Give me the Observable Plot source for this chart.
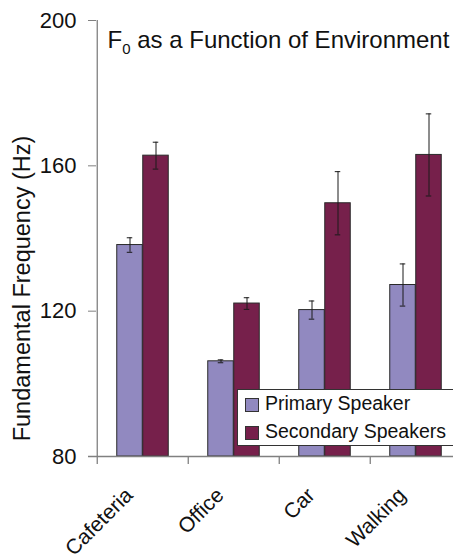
<!DOCTYPE html>
<html><head><meta charset="utf-8">
<script src="https://cdn.jsdelivr.net/npm/d3@7"></script>
<script src="https://cdn.jsdelivr.net/npm/@observablehq/plot@0.6"></script>
<style>
body{margin:0;background:#fff;font-family:"Liberation Sans",Arial,sans-serif;}
#wrap{position:relative;width:453px;height:560px;overflow:hidden;}
.legend{position:absolute;left:237px;top:389px;width:270px;height:57px;border:1px solid #333;background:#fff;box-sizing:border-box;font-size:19.5px;color:#111;}
.row{position:absolute;left:7px;height:14px;}
.sw{position:absolute;left:0;top:0;width:12px;height:12px;border:1px solid #333;}
.lab{position:absolute;left:20px;top:-5px;white-space:nowrap;line-height:20px;}
</style></head>
<body><div id="wrap"></div>
<script>
const categories = ["Cafeteria", "Office", "Car", "Walking"];
const series = ["Primary Speaker", "Secondary Speakers"];
const primary = [138.2, 106.2, 120.3, 127.2];
const primaryErr = [2.0, 0.4, 2.5, 5.8];
const secondary = [162.8, 122.1, 149.7, 163.0];
const secondaryErr = [3.7, 1.6, 8.7, 11.3];
const yTicks = [80, 120, 160, 200];
const colors = ["#9189c0", "#76204b"];
const title = "F0 as a Function of Environment";
const yLabel = "Fundamental Frequency (Hz)";

const rows = [];
categories.forEach((c, i) => {
  rows.push({cat: c, s: 0, v: primary[i], e: primaryErr[i]});
  rows.push({cat: c, s: 1, v: secondary[i], e: secondaryErr[i]});
});
const bw = (462 - 96) / categories.length; // band width in px
const barW = 26;
const half = bw / 2;
const grey = "#808080";

const marks = [];
[0, 1].forEach(s => {
  const d = rows.filter(r => r.s === s);
  const left = s === 0 ? half - barW : half;
  marks.push(Plot.barY(d, {x: "cat", y1: () => 80, y2: "v", fill: colors[s], stroke: "#2a2a2a", strokeWidth: 1,
    insetLeft: left, insetRight: bw - left - barW}));
  const off = s === 0 ? -barW / 2 : barW / 2;
  marks.push(Plot.ruleX(d, {x: "cat", y1: r => r.v - r.e, y2: r => r.v + r.e, dx: off, stroke: "#1a1a1a", strokeWidth: 1}));
  const capL = half + off - 3;
  marks.push(Plot.tickY(d, {x: "cat", y: r => r.v + r.e, insetLeft: capL, insetRight: bw - capL - 6, stroke: "#1a1a1a", strokeWidth: 1}));
  marks.push(Plot.tickY(d, {x: "cat", y: r => r.v - r.e, insetLeft: capL, insetRight: bw - capL - 6, stroke: "#1a1a1a", strokeWidth: 1}));
});
marks.push(Plot.ruleX([categories[0]], {x: d => d, dx: -half, stroke: grey, strokeWidth: 1.3}));
marks.push(Plot.ruleY([80], {stroke: grey, strokeWidth: 1.3, insetLeft: -8}));
marks.push(Plot.ruleX(categories, {x: d => d, dx: -half, stroke: grey, strokeWidth: 1.3, insetTop: 436, insetBottom: -8}));
marks.push(Plot.axisY({ticks: yTicks, tickSize: 8, tickPadding: 12, fontSize: 22, stroke: grey, tickFormat: d => String(d), label: null}));
marks.push(Plot.text(categories, {x: d => d, frameAnchor: "bottom", rotate: -45, textAnchor: "end", fontSize: 21, dx: -9, dy: 40, fill: "#111"}));
marks.push(Plot.text([title], {frameAnchor: "top-left", dx: 11, dy: 27, textAnchor: "start", lineAnchor: "bottom", fontSize: 24, fill: "#111"}));
marks.push(Plot.text([yLabel], {frameAnchor: "left", rotate: -90, textAnchor: "middle", dx: -74, dy: 50, fontSize: 23.5, fill: "#111"}));

const chart = Plot.plot({
  width: 453, height: 560,
  marginLeft: 96, marginTop: 20, marginBottom: 104, marginRight: 0,
  style: {fontFamily: '"Liberation Sans", Arial, sans-serif', color: "#111", background: "#fff", overflow: "visible"},
  x: {type: "band", domain: categories, range: [96, 462], padding: 0, axis: null},
  y: {domain: [80, 200], range: [456, 20], axis: null},
  marks
});
document.getElementById("wrap").appendChild(chart);

d3.select(chart).selectAll("text").each(function() {
  const t = d3.select(this);
  if (t.text() === title) {
    t.text(null);
    t.append("tspan").text("F");
    t.append("tspan").attr("dy", 6).attr("font-size", 15).text("0");
    t.append("tspan").attr("dy", -6).text(" as a Function of Environment");
  }
});

const lg = d3.select("#wrap").append("div").attr("class", "legend");
series.forEach((s, i) => {
  const r = lg.append("div").attr("class", "row").style("top", (i === 0 ? 8 : 36) + "px");
  r.append("div").attr("class", "sw").style("background", colors[i]);
  r.append("div").attr("class", "lab").text(s);
});
</script>
</body></html>
